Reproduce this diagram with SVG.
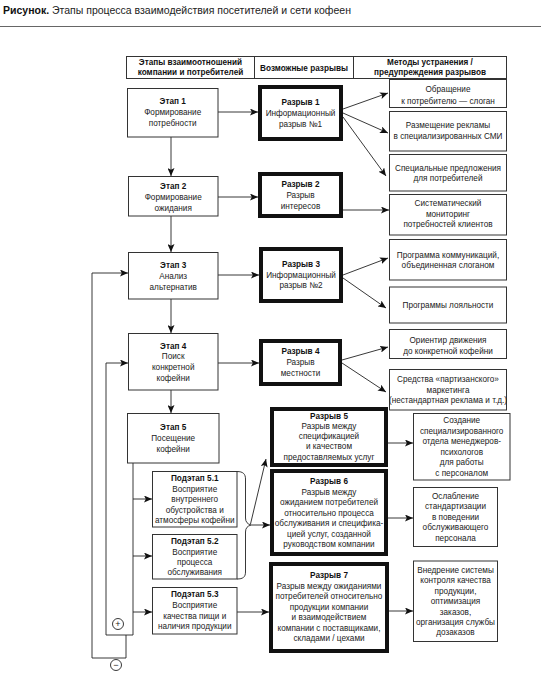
<svg xmlns="http://www.w3.org/2000/svg" width="541" height="679" viewBox="0 0 541 679">
<defs>
<marker id="ah" viewBox="0 0 8 7" refX="8" refY="3.5" markerWidth="8" markerHeight="7" markerUnits="userSpaceOnUse" orient="auto">
<path d="M0,0 L8,3.5 L0,7 L1.8,3.5 z" fill="#111"/>
</marker>
<style>
text{font-family:"Liberation Sans",Arial,sans-serif;font-size:8.2px;fill:#222;text-anchor:middle}
.bd{font-weight:bold;fill:#111}
.title{font-size:10.5px;text-anchor:start}
.box{fill:#fff;stroke:#333;stroke-width:1}
.gap{fill:#fff;stroke:#111;stroke-width:4}
.ln{fill:none;stroke:#222;stroke-width:0.9}
.ar{fill:none;stroke:#222;stroke-width:0.9;marker-end:url(#ah)}
.sym{font-size:9px}
</style>
</defs>
<rect width="541" height="679" fill="#fff"/>
<g id="title">
<text class="title" x="3" y="14"><tspan class="bd">Рисунок.</tspan> Этапы процесса взаимодействия посетителей и сети кофеен</text>
<line x1="0" y1="26.5" x2="541" y2="26.5" stroke="#666" stroke-width="1"/>
</g>
<g id="header">
<rect class="box" x="126.5" y="56.5" width="380" height="22"/>
<line x1="254.5" y1="56.5" x2="254.5" y2="78.5" stroke="#333"/>
<line x1="353.5" y1="56.5" x2="353.5" y2="78.5" stroke="#333"/>
<text class="bd" x="190.5" y="65">Этапы взаимоотношений</text>
<text class="bd" x="190.5" y="75">компании и потребителей</text>
<text class="bd" x="304" y="70.5">Возможные разрывы</text>
<text class="bd" x="430" y="65">Методы устранения /</text>
<text class="bd" x="430" y="75">предупреждения разрывов</text>
</g>
<g id="connectors">
<path class="ar" d="M218,112 H258"/>
<path class="ar" d="M218,197 H258"/>
<path class="ar" d="M218,275 H259"/>
<path class="ar" d="M218,363 H259"/>
<path class="ar" d="M171,137 V176"/>
<path class="ar" d="M171,216 V252"/>
<path class="ar" d="M171,299 V333"/>
<path class="ar" d="M171,390 V413"/>
<path class="ar" d="M343,109 L388,93"/>
<path class="ar" d="M343,113 L388,133"/>
<path class="ar" d="M343,117 L386,176"/>
<path class="ar" d="M343,210 H389"/>
<path class="ar" d="M343,275 L388,258"/>
<path class="ar" d="M343,278 L386,308"/>
<path class="ar" d="M342,360 L388,347"/>
<path class="ar" d="M342,363 L386,392"/>
<path class="ar" d="M388,443 H413"/>
<path class="ar" d="M388,518 H413"/>
<path class="ar" d="M389,611 H413"/>
<path class="ar" d="M133,463 V635 H106 V363 H128"/>
<path class="ar" d="M126,635 V658 H92 V273 H128"/>
<path class="ar" d="M133,499 H152"/>
<path class="ar" d="M133,556 H152"/>
<path class="ar" d="M133,612 H152"/>
<path class="ar" d="M237,612 H269"/>
<path class="ln" d="M237,471.5 C243,471.5 245.5,474 245.5,479 L245.5,518 C245.5,522 247.5,524 251,525 C247.5,526 245.5,528 245.5,532 L245.5,572 C245.5,577 243,579 237,579"/>
<path class="ar" d="M251,525 H270"/>
<path class="ar" d="M250.5,524 L266,459"/>
<circle cx="118" cy="624" r="5.5" fill="#fff" stroke="#222" stroke-width="0.9"/>
<text class="sym" x="118" y="627.3">+</text>
<circle cx="116" cy="665" r="5.5" fill="#fff" stroke="#222" stroke-width="0.9"/>
<text class="sym" x="116" y="668.2">−</text>
</g>
<g id="etap1">
<rect class="box" x="127.5" y="88.5" width="90.5" height="48.5"/>
<text class="bd" x="172.7" y="103.5">Этап 1</text>
<text x="172.7" y="114.5">Формирование</text>
<text x="172.7" y="125.5">потребности</text>
</g>
<g id="etap2">
<rect class="box" x="128.5" y="176.5" width="89.5" height="39.5"/>
<text class="bd" x="173.2" y="189">Этап 2</text>
<text x="173.2" y="200">Формирование</text>
<text x="173.2" y="211">ожидания</text>
</g>
<g id="etap3">
<rect class="box" x="128.5" y="252.5" width="89.5" height="46.5"/>
<text class="bd" x="173.2" y="267.5">Этап 3</text>
<text x="173.2" y="278.5">Анализ</text>
<text x="173.2" y="289.5">альтернатив</text>
</g>
<g id="etap4">
<rect class="box" x="128.5" y="333.5" width="89.5" height="56.5"/>
<text class="bd" x="173.2" y="348.6">Этап 4</text>
<text x="173.2" y="359.3">Поиск</text>
<text x="173.2" y="370">конкретной</text>
<text x="173.2" y="380.7">кофейни</text>
</g>
<g id="etap5">
<rect class="box" x="127.5" y="413.5" width="91.5" height="49.5"/>
<text class="bd" x="173.2" y="430">Этап 5</text>
<text x="173.2" y="440.8">Посещение</text>
<text x="173.2" y="451.6">кофейни</text>
</g>
<g id="podetap51">
<rect class="box" x="152.5" y="471.5" width="84.5" height="55.5"/>
<text class="bd" x="194.7" y="481.4">Подэтап 5.1</text>
<text x="194.7" y="491.8">Восприятие</text>
<text x="194.7" y="502.2">внутреннего</text>
<text x="194.7" y="512.6">обустройства и</text>
<text x="194.7" y="523">атмосферы кофейни</text>
</g>
<g id="podetap52">
<rect class="box" x="152.5" y="534.5" width="84.5" height="44.5"/>
<text class="bd" x="194.7" y="544.2">Подэтап 5.2</text>
<text x="194.7" y="554.6">Восприятие</text>
<text x="194.7" y="565">процесса</text>
<text x="194.7" y="575.4">обслуживания</text>
</g>
<g id="podetap53">
<rect class="box" x="152.5" y="587.5" width="84.5" height="46.5"/>
<text class="bd" x="194.7" y="597">Подэтап 5.3</text>
<text x="194.7" y="607.8">Восприятие</text>
<text x="194.7" y="618.6">качества пищи и</text>
<text x="194.7" y="629.4">наличия продукции</text>
</g>
<g id="razryv1">
<rect class="gap" x="260" y="87" width="81" height="52"/>
<text class="bd" x="300.5" y="105.2">Разрыв 1</text>
<text x="300.5" y="115.9">Информационный</text>
<text x="300.5" y="126.6">разрыв №1</text>
</g>
<g id="razryv2">
<rect class="gap" x="260" y="174" width="81" height="42"/>
<text class="bd" x="300.5" y="187.2">Разрыв 2</text>
<text x="300.5" y="197.9">Разрыв</text>
<text x="300.5" y="208.6">интересов</text>
</g>
<g id="razryv3">
<rect class="gap" x="261" y="249" width="80" height="52"/>
<text class="bd" x="301" y="267">Разрыв 3</text>
<text x="301" y="277.7">Информационный</text>
<text x="301" y="288.4">разрыв №2</text>
</g>
<g id="razryv4">
<rect class="gap" x="261" y="341" width="79" height="43"/>
<text class="bd" x="300.5" y="354.3">Разрыв 4</text>
<text x="300.5" y="365">Разрыв</text>
<text x="300.5" y="375.7">местности</text>
</g>
<g id="razryv5">
<rect class="gap" x="272" y="409" width="114" height="56"/>
<text class="bd" x="329" y="418.5">Разрыв 5</text>
<text x="329" y="428.8">Разрыв между</text>
<text x="329" y="439.1">спецификацией</text>
<text x="329" y="449.4">и качеством</text>
<text x="329" y="459.7">предоставляемых услуг</text>
</g>
<g id="razryv6">
<rect class="gap" x="272" y="471" width="114" height="83"/>
<text class="bd" x="329" y="484">Разрыв 6</text>
<text x="329" y="494.5">Разрыв между</text>
<text x="329" y="505">ожиданием потребителей</text>
<text x="329" y="515.5">относительно процесса</text>
<text x="329" y="526">обслуживания и специфика-</text>
<text x="329" y="536.5">цией услуг, созданной</text>
<text x="329" y="547">руководством компании</text>
</g>
<g id="razryv7">
<rect class="gap" x="271" y="564" width="116" height="87"/>
<text class="bd" x="329" y="578">Разрыв 7</text>
<text x="329" y="588.5">Разрыв между ожиданиями</text>
<text x="329" y="599">потребителей относительно</text>
<text x="329" y="609.5">продукции компании</text>
<text x="329" y="620">и взаимодействием</text>
<text x="329" y="630.5">компании с поставщиками,</text>
<text x="329" y="641">складами / цехами</text>
</g>
<g id="m-obrashenie">
<rect class="box" x="389.5" y="79.5" width="117" height="28"/>
<text x="448" y="92">Обращение</text>
<text x="448" y="103.5">к потребителю — слоган</text>
</g>
<g id="m-reklama">
<rect class="box" x="389.5" y="111.5" width="117" height="39.5"/>
<text x="448" y="128">Размещение рекламы</text>
<text x="448" y="139">в специализированных СМИ</text>
</g>
<g id="m-predlozheniya">
<rect class="box" x="389.5" y="154.5" width="117" height="36.5"/>
<text x="448" y="170.5">Специальные предложения</text>
<text x="448" y="181">для потребителей</text>
</g>
<g id="m-monitoring">
<rect class="box" x="389.5" y="194.5" width="117" height="40.5"/>
<text x="448" y="206">Систематический</text>
<text x="448" y="216.7">мониторинг</text>
<text x="448" y="227.4">потребностей клиентов</text>
</g>
<g id="m-kommunikacii">
<rect class="box" x="389.5" y="239.5" width="117" height="40.5"/>
<text x="448" y="257.5">Программа коммуникаций,</text>
<text x="448" y="268.2">объединенная слоганом</text>
</g>
<g id="m-loyalnost">
<rect class="box" x="389.5" y="287" width="117" height="36"/>
<text x="448" y="308">Программы лояльности</text>
</g>
<g id="m-orientir">
<rect class="box" x="389.5" y="329.5" width="117" height="29"/>
<text x="448" y="342.5">Ориентир движения</text>
<text x="448" y="353.5">до конкретной кофейни</text>
</g>
<g id="m-partizan">
<rect class="box" x="389.5" y="369.5" width="117" height="40.5"/>
<text x="448" y="382">Средства «партизанского»</text>
<text x="448" y="392.6">маркетинга</text>
<text x="448" y="403.4">(нестандартная реклама и т.д.)</text>
</g>
<g id="m-sozdanie">
<rect class="box" x="413.5" y="413.5" width="96.5" height="66.5"/>
<text x="461.7" y="423.4">Создание</text>
<text x="461.7" y="433.9">специализированного</text>
<text x="461.7" y="444.4">отдела менеджеров-</text>
<text x="461.7" y="454.9">психологов</text>
<text x="461.7" y="465.4">для работы</text>
<text x="461.7" y="475.9">с персоналом</text>
</g>
<g id="m-oslablenie">
<rect class="box" x="413.5" y="487.5" width="84" height="59"/>
<text x="455.5" y="498.9">Ослабление</text>
<text x="455.5" y="509.4">стандартизации</text>
<text x="455.5" y="519.9">в поведении</text>
<text x="455.5" y="530.4">обслуживающего</text>
<text x="455.5" y="540.9">персонала</text>
</g>
<g id="m-vnedrenie">
<rect class="box" x="413.5" y="561" width="84" height="80.5"/>
<text x="455.5" y="572.9">Внедрение системы</text>
<text x="455.5" y="583.3">контроля качества</text>
<text x="455.5" y="593.7">продукции,</text>
<text x="455.5" y="604.1">оптимизация</text>
<text x="455.5" y="614.5">заказов,</text>
<text x="455.5" y="624.9">организация службы</text>
<text x="455.5" y="635.3">дозаказов</text>
</g>
</svg>
